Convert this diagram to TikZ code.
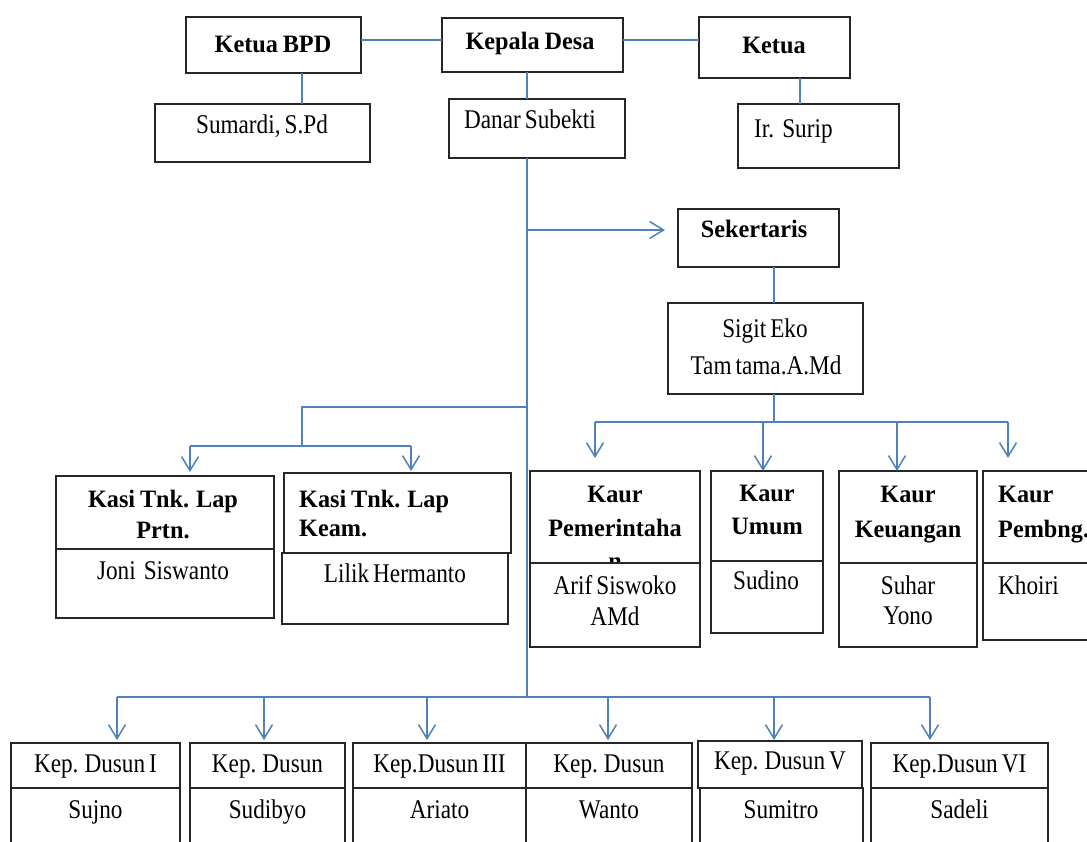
\documentclass[tikz,border=0pt]{standalone}
\usepackage{fontspec}
\setmainfont{Liberation Serif}
\newfontfamily\regf{Liberation Serif}[FakeStretch=0.86,WordSpace=0.7]
\newfontfamily\boldf{Liberation Serif}[FakeStretch=0.97,WordSpace=0.8]
\usetikzlibrary{arrows.meta,calc}
\definecolor{cblue}{RGB}{79,129,189}
\tikzset{
  box/.style={rectangle,draw=black!85,line width=1.8pt,fill=white,inner sep=0pt,outer sep=0pt},
  conn/.style={draw=cblue,line width=1.5pt},
  arr/.style={conn,-{Straight Barb[length=14pt,width=17pt]}},
  tbold/.style={inner sep=0pt,font=\boldf\bfseries\fontsize{25}{30}\selectfont},
  treg/.style={inner sep=0pt,font=\regf\fontsize{27}{30}\selectfont}
}
\newcommand\orgbox[5]{\node[box,minimum width={(#4-#2)*1pt},minimum height={(#5-#3)*1pt}] (#1) at ({(#2+#4)/2},{(#3+#5)/2}) {};}
\newcommand\bline[4]{\node[tbold,anchor=base] (#1) at (#2,#3) {#4};}
\newcommand\blinel[4]{\node[tbold,anchor=base west] (#1) at (#2,#3) {#4};}
\newcommand\rline[4]{\node[treg,anchor=base] (#1) at (#2,#3) {#4};}
\newcommand\rlinel[4]{\node[treg,anchor=base west] (#1) at (#2,#3) {#4};}
\begin{document}
\begin{tikzpicture}[x=1pt,y=-1pt]
\useasboundingbox (0,0) rectangle (1087,841);
\fill[white] (0,0) rectangle (1087,841);

% junction coordinates
\coordinate (vB) at (302,0);
\coordinate (vK) at (800,0);
\coordinate (jS) at (527,230);
\coordinate (jL) at (527,407);
\coordinate (jB) at (527,697);
\coordinate (jL2) at (302,407);
\coordinate (jL3) at (302,446);
\coordinate (jL4) at (190,446);
\coordinate (jL5) at (411,446);
\coordinate (jK0) at (774,422);
\coordinate (jK1) at (595,422);
\coordinate (jK2) at (763,422);
\coordinate (jK3) at (897,422);
\coordinate (jK4) at (1008,422);
\coordinate (jB1) at (117,697);
\coordinate (jB2) at (264,697);
\coordinate (jB3) at (427,697);
\coordinate (jB4) at (608,697);
\coordinate (jB5) at (774,697);
\coordinate (jB6) at (930,697);

% top row
\orgbox{bpd}{186}{17}{361}{73}
\orgbox{kd}{442}{18}{623}{72}
\orgbox{ket}{699}{17}{850}{78}
\orgbox{sum}{155}{104}{370}{162}
\orgbox{dan}{449}{99}{625}{158}
\orgbox{sur}{738}{104}{899}{168}
\bline{tbpd}{273}{52}{Ketua BPD}
\bline{tkd}{530}{49}{Kepala Desa}
\bline{tket}{774}{53}{Ketua}
\rline{tsum}{262}{133}{Sumardi, S.Pd}
\rline{tdan}{530}{128}{Danar Subekti}
\rlinel{tsur}{754}{137}{Ir.\ \ Surip}

% sekretaris
\orgbox{sek}{678}{209}{839}{267}
\orgbox{sig}{668}{303}{863}{394}
\bline{tsek}{754}{237}{Sekertaris}
\rline{tsig1}{765}{337}{Sigit Eko}
\rline{tsig2}{766}{374}{Tam tama.A.Md}

% kasi
\orgbox{kpt}{56}{476}{274}{549}
\orgbox{kpb}{56}{549}{274}{618}
\bline{tkp1}{163}{507}{Kasi Tnk. Lap}
\bline{tkp2}{163}{538}{Prtn.}
\rline{tkp3}{163}{579}{Joni\ \ Siswanto}
\orgbox{kkt}{284}{473}{511}{553}
\orgbox{kkb}{282}{553}{508}{624}
\blinel{tkk1}{299}{507}{Kasi Tnk. Lap}
\blinel{tkk2}{299}{536}{Keam.}
\rline{tkk3}{395}{582}{Lilik Hermanto}

% kaur
\orgbox{pmt}{530}{471}{700}{563}
\bline{tpm1}{615}{502}{Kaur}
\bline{tpm2}{615}{536}{Pemerintaha}
\bline{tpm3}{615}{569}{n}
\orgbox{pmb}{530}{563}{700}{647}
\rline{tpm4}{615}{594}{Arif Siswoko}
\rline{tpm5}{615}{625}{AMd}
\orgbox{umt}{711}{471}{823}{561}
\orgbox{umb}{711}{561}{823}{633}
\bline{tum1}{767}{501}{Kaur}
\bline{tum2}{767}{534}{Umum}
\rline{tum3}{766}{589}{Sudino}
\orgbox{kut}{839}{471}{977}{563}
\orgbox{kub}{839}{563}{977}{647}
\bline{tku1}{908}{502}{Kaur}
\bline{tku2}{908}{537}{Keuangan}
\rline{tku3}{908}{594}{Suhar}
\rline{tku4}{908}{624}{Yono}
\orgbox{pbt}{983}{471}{1100}{563}
\orgbox{pbb}{983}{563}{1100}{640}
\blinel{tpb1}{998}{502}{Kaur}
\blinel{tpb2}{998}{537}{Pembng.}
\rlinel{tpb3}{998}{594}{Khoiri}

% dusun
\orgbox{d1t}{11}{743}{180}{788}
\orgbox{d1b}{11}{788}{180}{870}
\orgbox{d2t}{190}{743}{345}{788}
\orgbox{d2b}{190}{788}{345}{870}
\orgbox{d3t}{353}{743}{526}{788}
\orgbox{d3b}{353}{788}{526}{870}
\orgbox{d4t}{526}{743}{692}{788}
\orgbox{d4b}{526}{788}{692}{870}
\orgbox{d5t}{698}{741}{862}{788}
\orgbox{d5b}{700}{788}{863}{870}
\orgbox{d6t}{871}{743}{1048}{788}
\orgbox{d6b}{871}{788}{1048}{870}
\rline{td1a}{95.5}{772}{Kep. Dusun I}
\rline{td1b}{95.5}{818}{Sujno}
\rline{td2a}{267.5}{772}{Kep. Dusun}
\rline{td2b}{267.5}{818}{Sudibyo}
\rline{td3a}{439.5}{772}{Kep.Dusun III}
\rline{td3b}{439.5}{818}{Ariato}
\rline{td4a}{609}{772}{Kep. Dusun}
\rline{td4b}{609}{818}{Wanto}
\rline{td5a}{780}{769}{Kep. Dusun V}
\rline{td5b}{781}{818}{Sumitro}
\rline{td6a}{959.5}{772}{Kep.Dusun VI}
\rline{td6b}{959.5}{818}{Sadeli}

% connectors top
\coordinate (hL) at ($(kd.west)+(0,-5)$);
\coordinate (hR) at ($(kd.east)+(0,-5)$);
\draw[conn] (bpd.east |- hL) -- (hL);
\draw[conn] (hR) -- (hR -| ket.west);
\draw[conn] (bpd.south -| vB) -- (sum.north -| vB);
\draw[conn] (kd.south -| jS) -- (dan.north -| jS);
\draw[conn] (ket.south -| vK) -- (sur.north -| vK);

% trunk
\draw[conn] (dan.south -| jS) -- (jB);
\draw[arr] (jS) -- ($(sek.west |- jS)+(-13,0)$);
\draw[conn] (sek.south -| jK0) -- (sig.north -| jK0);
\draw[conn] (sig.south -| jK0) -- (jK0);
\draw[conn] (jK1) -- (jK4);
\draw[arr] (jK1) -- ($(pmt.north -| jK1)+(0,-13)$);
\draw[arr] (jK2) -- (umt.north -| jK2);
\draw[arr] (jK3) -- (kut.north -| jK3);
\draw[arr] (jK4) -- ($(pbt.north -| jK4)+(0,-13)$);

% left branch
\draw[conn] (jL) -- (jL2) -- (jL3);
\draw[conn] (jL4) -- (jL5);
\draw[arr] (jL4) -- ($(kpt.north -| jL4)+(0,-4)$);
\draw[arr] (jL5) -- ($(kkt.north -| jL5)+(0,-2)$);

% bottom branch
\draw[conn] (jB1) -- (jB6);
\draw[arr] (jB1) -- ($(d1t.north -| jB1)+(0,-3)$);
\draw[arr] (jB2) -- ($(d2t.north -| jB2)+(0,-3)$);
\draw[arr] (jB3) -- ($(d3t.north -| jB3)+(0,-3)$);
\draw[arr] (jB4) -- ($(d4t.north -| jB4)+(0,-3)$);
\draw[arr] (jB5) -- ($(d5t.north -| jB5)+(0,-1)$);
\draw[arr] (jB6) -- ($(d6t.north -| jB6)+(0,-3)$);
\end{tikzpicture}
\end{document}
